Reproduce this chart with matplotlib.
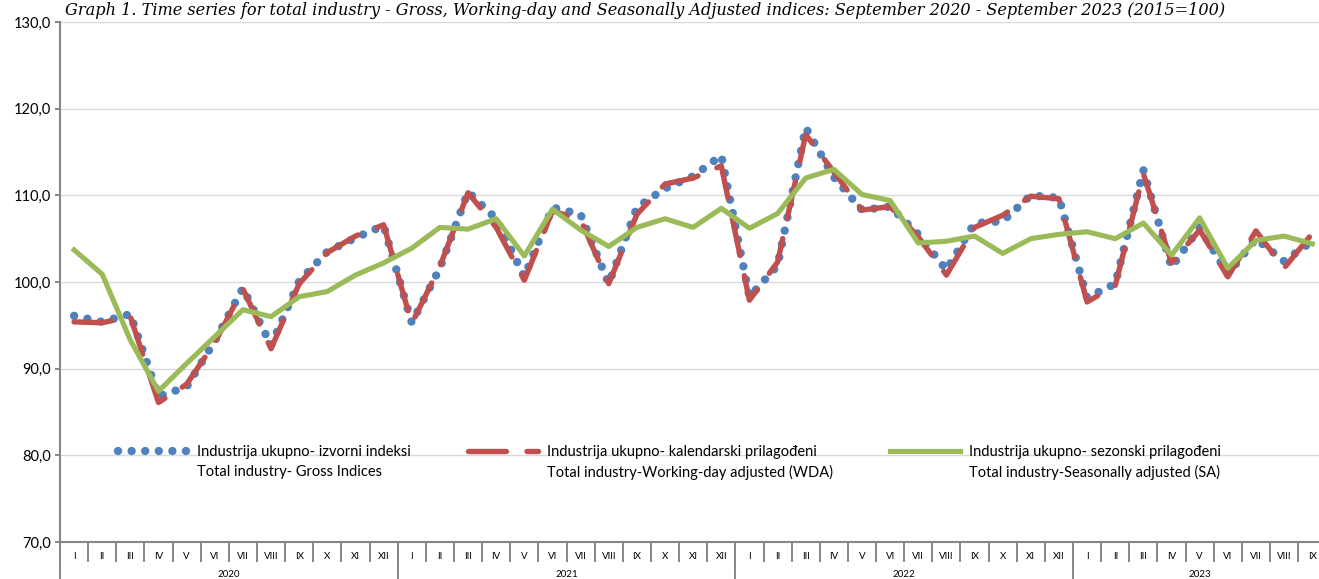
import matplotlib.pyplot as plt
from matplotlib.ticker import FuncFormatter
from matplotlib.legend import Legend

# months on the x axis: Jan 2020 .. Sep 2023
roman = ["I", "II", "III", "IV", "V", "VI", "VII", "VIII", "IX", "X", "XI", "XII"]
years = ["2020", "2021", "2022", "2023"]
months_per_year = [12, 12, 12, 9]

# Gross indices (izvorni indeksi)
gross = [96.1, 95.4, 96.3, 86.8, 87.9, 93.2, 99.3, 92.7, 100.1, 103.5, 105.1, 106.5,
         95.3, 101.6, 110.4, 107.3, 100.6, 108.6, 107.8, 99.8, 108.6, 110.8, 112.2, 114.6,
         98.3, 101.9, 117.8, 112.1, 108.3, 108.7, 105.5, 101.4, 106.8, 107.0, 110.0, 109.7,
         98.2, 99.8, 112.9, 101.7, 106.3, 100.9, 105.0, 102.4, 104.7]
# Working-day adjusted
wda = [95.4, 95.3, 96.0, 86.1, 88.2, 93.0, 99.2, 92.3, 99.8, 103.4, 105.3, 106.6,
       95.2, 101.8, 110.3, 106.3, 100.2, 108.2, 107.2, 99.8, 107.8, 111.3, 112.0, 113.4,
       97.9, 102.3, 117.0, 112.7, 108.3, 108.7, 105.2, 100.8, 106.3, 107.7, 109.9, 109.6,
       97.7, 99.6, 112.5, 102.2, 106.0, 100.6, 105.9, 101.6, 105.6]
# Seasonally adjusted
sa = [103.7, 100.9, 93.3, 87.4, 90.6, 93.7, 96.8, 96.0, 98.3, 98.9, 100.8, 102.2,
      103.9, 106.3, 106.1, 107.3, 103.0, 108.4, 106.0, 104.1, 106.3, 107.3, 106.3, 108.5,
      106.2, 107.9, 112.0, 113.0, 110.1, 109.4, 104.5, 104.7, 105.3, 103.3, 105.0, 105.5,
      105.8, 105.0, 106.8, 103.1, 107.4, 101.6, 104.8, 105.3, 104.4]

labels_hr = ["Industrija ukupno- izvorni indeksi",
             "Industrija ukupno- kalendarski prilagođeni",
             "Industrija ukupno- sezonski prilagođeni"]
labels_en = ["Total industry- Gross Indices",
             "Total industry-Working-day adjusted (WDA)",
             "Total industry-Seasonally adjusted (SA)"]
title = ("Graph 1. Time series for total industry - Gross, Working-day and Seasonally "
         "Adjusted indices: September 2020 - September 2023 (2015=100)")

BLUE = "#4F81BD"
RED = "#C0504D"
GREEN = "#9BBB59"
AXIS = "#868686"

plt.rcParams['font.family'] = ['Lato', 'DejaVu Sans']

W, H = 1319, 579
fig = plt.figure(figsize=(W / 100, H / 100), dpi=100)
n = len(gross)
cell = 28.14
ax = fig.add_axes([60 / W, 37 / H, n * cell / W, 520 / H])

x = list(range(n))
l_gross, = ax.plot(x, gross, color=BLUE, lw=6.0, linestyle=(0, (0.01, 1.62)),
                   dash_capstyle='round')
l_wda, = ax.plot(x, wda, color=RED, lw=3.9, linestyle=(0, (7, 3.8)),
                 dash_capstyle='round', dash_joinstyle='round')
l_sa, = ax.plot(x, sa, color=GREEN, lw=3.7, solid_joinstyle='round')

ax.set_xlim(-0.5, n - 0.5)
ax.set_ylim(70, 130)
ax.set_yticks(range(70, 131, 10))
ax.yaxis.set_major_formatter(FuncFormatter(lambda v, p: f"{v:.1f}".replace('.', ',')))
ax.grid(axis='y', color='#D9D9D9', lw=1.0)
ax.set_axisbelow(True)
for s in ['top', 'right']:
    ax.spines[s].set_visible(False)
for s in ['left', 'bottom']:
    ax.spines[s].set_color(AXIS)
    ax.spines[s].set_linewidth(1.5)
ax.tick_params(axis='y', length=3.6, width=1.4, color=AXIS, labelsize=10.5, pad=3)

# month labels and month separators
month_labels = []
for cnt in months_per_year:
    month_labels += roman[:cnt]
ax.set_xticks(x)
ax.set_xticklabels(month_labels)
ax.set_xticks([i - 0.5 for i in range(n + 1)], minor=True)
ax.tick_params(axis='x', which='major', length=0, labelsize=7, pad=7)
ax.tick_params(axis='x', which='minor', length=14.4, width=1.4, color=AXIS)

# year separators and year labels
start = -0.5
bounds = []
centers = []
for cnt in months_per_year:
    bounds.append(start)
    centers.append(start + cnt / 2)
    start += cnt
ax.vlines(bounds, -40 / 520, 0, transform=ax.get_xaxis_transform(), clip_on=False,
          color=AXIS, lw=1.4)
for c, yr in zip(centers, years):
    ax.text(c, -32.5 / 520, yr, transform=ax.get_xaxis_transform(), ha='center',
            va='center', fontsize=7)

# legend: one entry per block, second line underneath
fs = 10.5
fs_px = fs * 100 / 72
legs = []
for handle, lab, hx in zip([l_gross, l_wda, l_sa], labels_hr, [118, 468, 890]):
    leg = Legend(ax, [handle], [lab], loc='center left',
                 bbox_to_anchor=(hx / W, 1 - 452 / H), bbox_transform=fig.transFigure,
                 frameon=False, borderpad=0, borderaxespad=0, fontsize=fs,
                 handlelength=70 / fs_px, handletextpad=9 / fs_px)
    ax.add_artist(leg)
    legs.append(leg)

fig.canvas.draw()
for leg, lab in zip(legs, labels_en):
    bb = leg.get_texts()[0].get_window_extent()
    yc = (bb.y0 + bb.y1) / 2 - 20
    fig.text(bb.x0 / W, yc / H, lab, fontsize=fs, va='center', ha='left')

fig.text(65 / W, 1 - 15 / H, title, fontsize=11.65, family='DejaVu Serif', style='italic',
         va='baseline', ha='left')

fig.savefig('out.png', dpi=100)
